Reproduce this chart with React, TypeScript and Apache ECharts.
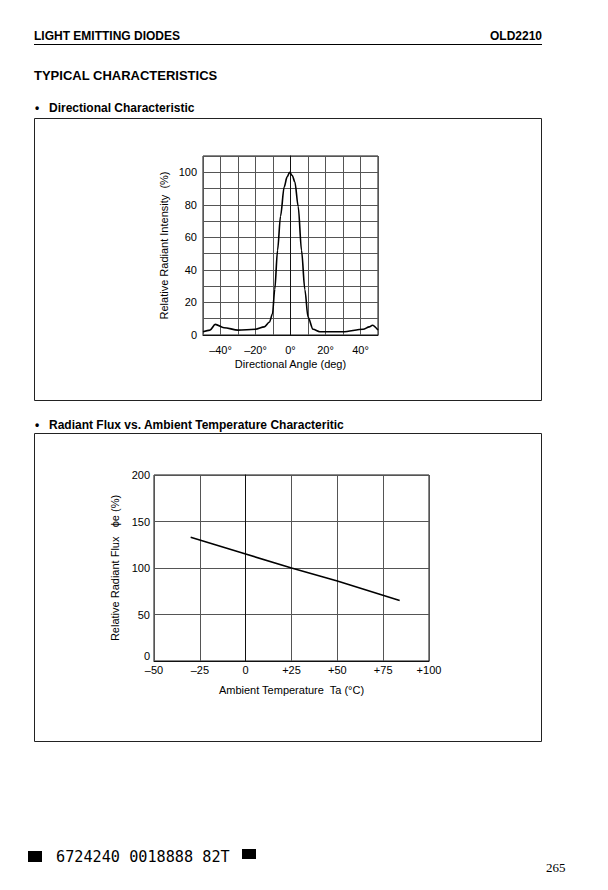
import React, { useEffect, useRef } from "react";
import * as echarts from "echarts";

// Directional characteristic
const angleDeg = [-50, -46, -43, -38, -30, -20, -15, -12, -10.3, -9, -7.4, -5.7, -3.6, -2, -0.5, 1, 2.5, 4.4, 6.3, 8.2, 10, 12.9, 16.7, 30, 41.5, 45, 46.8, 50];
const intensity = [2, 3, 6.5, 4.5, 3, 3.5, 5, 8, 13, 28, 52, 73, 91, 97, 100, 98, 94, 79, 52, 28, 11, 3.5, 2, 2, 3.5, 5, 6, 3];

// Radiant flux vs ambient temperature
const tempC = [-30, 0, 25, 50, 84];
const flux = [133, 115, 100, 86, 65];

const angleTickLabels: Record<number, string> = { [-40]: "–40°", [-20]: "–20°", 0: "0°", 20: "20°", 40: "40°" };
const tempTickLabels: Record<number, string> = { [-50]: "–50", [-25]: "–25", 0: "0", 25: "+25", 50: "+50", 75: "+75", 100: "+100" };

const NARROW = "'Liberation Sans', Arial, sans-serif";
const SANS = "'Liberation Sans', Arial, sans-serif";

export default function App() {
  const ref = useRef<HTMLDivElement>(null);
  useEffect(() => {
    if (!ref.current) return;
    const chart = echarts.init(ref.current, null, { renderer: "svg" });
    const axisText = { color: "#000", fontFamily: NARROW, fontSize: 11 };
    const grid = "#555";
    chart.setOption({
      animation: false,
      backgroundColor: "#fff",
      grid: [
        { left: 203, top: 156, width: 175, height: 179, show: true, borderColor: "#111", borderWidth: 1, backgroundColor: "transparent" },
        { left: 154, top: 475, width: 275, height: 186, show: true, borderColor: "#111", borderWidth: 1, backgroundColor: "transparent" },
      ],
      xAxis: [
        {
          gridIndex: 0, type: "value", min: -50, max: 50, interval: 10,
          axisLine: { lineStyle: { color: "#111" } }, axisTick: { show: false },
          splitLine: { lineStyle: { color: grid, width: 1 } },
          axisLabel: { ...axisText, margin: 9, formatter: (v: number) => angleTickLabels[v] ?? "" },
          name: "Directional Angle (deg)", nameLocation: "middle", nameGap: 23,
          nameTextStyle: { ...axisText },
        },
        {
          gridIndex: 1, type: "value", min: -50, max: 100, interval: 25,
          axisLine: { lineStyle: { color: "#111" } }, axisTick: { show: false },
          splitLine: { lineStyle: { color: grid, width: 1 } },
          axisLabel: { ...axisText, margin: 3, formatter: (v: number) => tempTickLabels[v] ?? "" },
          name: "Ambient Temperature  Ta (°C)", nameLocation: "middle", nameGap: 23,
          nameTextStyle: { ...axisText },
        },
      ],
      yAxis: [
        {
          gridIndex: 0, type: "value", min: 0, max: 110, interval: 10,
          axisLine: { lineStyle: { color: "#111" } }, axisTick: { show: false },
          splitLine: { lineStyle: { color: grid, width: 1 } },
          axisLabel: { ...axisText, margin: 6, formatter: (v: number) => (v % 20 === 0 && v <= 100 ? String(v) : "") },
          name: "Relative Radiant Intensity  (%)", nameLocation: "middle", nameGap: 34,
          nameTextStyle: { ...axisText },
        },
        {
          gridIndex: 1, type: "value", min: 0, max: 200, interval: 50,
          axisLine: { lineStyle: { color: "#111" } }, axisTick: { show: false },
          splitLine: { lineStyle: { color: grid, width: 1 } },
          axisLabel: { ...axisText, margin: 4, verticalAlignMinLabel: "bottom" },
          name: "Relative Radiant Flux   ϕe (%)", nameLocation: "middle", nameGap: 34,
          nameTextStyle: { ...axisText },
        },
      ],
      series: [
        {
          type: "line", xAxisIndex: 0, yAxisIndex: 0,
          data: angleDeg.map((a, i) => [a, intensity[i]]),
          smooth: 0.3, smoothMonotone: "x", showSymbol: false,
          lineStyle: { color: "#000", width: 1.6 },
        },
        {
          type: "line", xAxisIndex: 1, yAxisIndex: 1,
          data: tempC.map((t, i) => [t, flux[i]]),
          showSymbol: false,
          lineStyle: { color: "#000", width: 1.6 },
        },
      ],
      graphic: [
        { type: "text", left: 34, top: 30, style: { text: "LIGHT EMITTING DIODES", font: `bold 12px ${SANS}`, fill: "#000" } },
        { type: "text", right: 66, top: 30, style: { text: "OLD2210", font: `bold 12px ${SANS}`, fill: "#000" } },
        { type: "line", shape: { x1: 34, y1: 44.5, x2: 542, y2: 44.5 }, style: { stroke: "#000", lineWidth: 1.2 } },
        { type: "text", left: 34, top: 69, style: { text: "TYPICAL CHARACTERISTICS", font: `bold 13px ${SANS}`, fill: "#000" } },
        { type: "text", left: 35, top: 102, style: { text: "•", font: `bold 12px ${SANS}`, fill: "#000" } },
        { type: "text", left: 49, top: 102, style: { text: "Directional Characteristic", font: `bold 12px ${SANS}`, fill: "#000" } },
        { type: "rect", shape: { x: 34.5, y: 118.5, width: 507, height: 282 }, style: { fill: "none", stroke: "#222", lineWidth: 1 } },
        { type: "text", left: 35, top: 419, style: { text: "•", font: `bold 12px ${SANS}`, fill: "#000" } },
        { type: "text", left: 49, top: 419, style: { text: "Radiant Flux vs. Ambient Temperature Characteritic", font: `bold 12px ${SANS}`, fill: "#000" } },
        { type: "rect", shape: { x: 34.5, y: 433.5, width: 507, height: 308 }, style: { fill: "none", stroke: "#222", lineWidth: 1 } },
        { type: "rect", shape: { x: 28, y: 851, width: 14, height: 11 }, style: { fill: "#000" } },
        { type: "text", left: 56, top: 849, style: { text: "6724240 0018888 82T", font: `15.2px 'DejaVu Sans Mono', monospace`, fill: "#000" } },
        { type: "rect", shape: { x: 242, y: 849, width: 14, height: 10 }, style: { fill: "#000" } },
        { type: "text", left: 546, top: 861, style: { text: "265", font: `13px 'Liberation Serif', serif`, fill: "#000" } },
      ],
    });
    return () => chart.dispose();
  }, []);
  return <div ref={ref} style={{ position: "absolute", left: 0, top: 0, width: 608, height: 890 }} />;
}
